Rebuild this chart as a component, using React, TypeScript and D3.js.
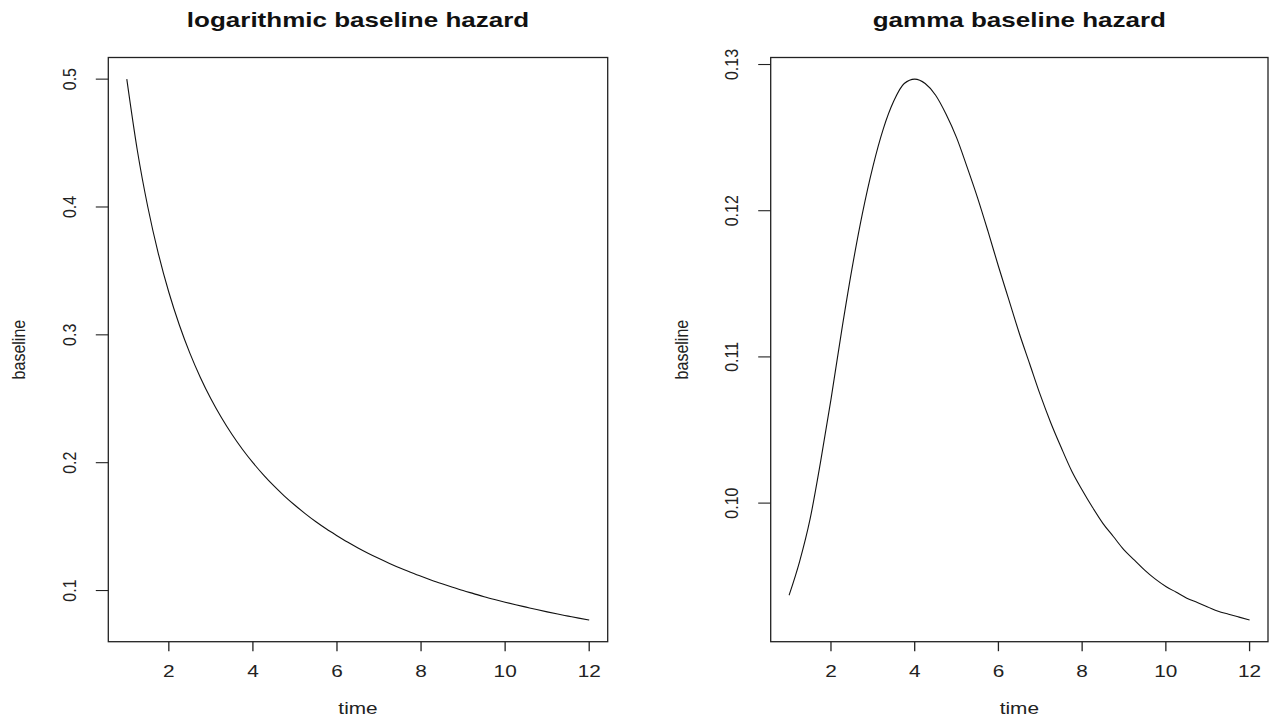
import React from "react";
import * as d3 from "d3";

// Evaluation grid (time) shared by both hazard curves
const time = [
  1, 1.25, 1.5, 1.75, 2, 2.25, 2.5, 2.75, 3, 3.25, 3.5, 3.75, 4, 4.25, 4.5, 4.75,
  5, 5.25, 5.5, 5.75, 6, 6.25, 6.5, 6.75, 7, 7.25, 7.5, 7.75, 8, 8.25, 8.5, 8.75,
  9, 9.25, 9.5, 9.75, 10, 10.25, 10.5, 10.75, 11, 11.25, 11.5, 11.75, 12,
];

// Logarithmic baseline hazard values
const logBaseline = [
  0.5, 0.4444, 0.4, 0.3636, 0.3333, 0.3077, 0.2857, 0.2667, 0.25, 0.2353, 0.2222,
  0.2105, 0.2, 0.1905, 0.1818, 0.1739, 0.1667, 0.16, 0.1538, 0.1481, 0.1429, 0.1379,
  0.1333, 0.129, 0.125, 0.1212, 0.1176, 0.1143, 0.1111, 0.1081, 0.1053, 0.1026, 0.1,
  0.0976, 0.0952, 0.093, 0.0909, 0.0889, 0.087, 0.0851, 0.0833, 0.0816, 0.08, 0.0784,
  0.0769,
];

// Gamma baseline hazard values
const gammaBaseline = [
  0.0937, 0.096, 0.0989, 0.1028, 0.1071, 0.1117, 0.116, 0.1198, 0.123, 0.1256, 0.1275,
  0.1287, 0.129, 0.1287, 0.1279, 0.1266, 0.125, 0.123, 0.1209, 0.1186, 0.1162, 0.1139,
  0.1116, 0.1095, 0.1074, 0.1055, 0.1038, 0.1022, 0.1009, 0.0997, 0.0986, 0.0977,
  0.0968, 0.0961, 0.0954, 0.0948, 0.0943, 0.0939, 0.0935, 0.0932, 0.0929, 0.0926,
  0.0924, 0.0922, 0.092,
];

const xTicks = [2, 4, 6, 8, 10, 12];
const logYTicks = [0.1, 0.2, 0.3, 0.4, 0.5];
const logYTickLabels = ["0.1", "0.2", "0.3", "0.4", "0.5"];
const gammaYTicks = [0.1, 0.11, 0.12, 0.13];
const gammaYTickLabels = ["0.10", "0.11", "0.12", "0.13"];

const W = 1269;
const H = 716;
const SX = 1.3; // horizontal text stretch
const SXR = 1.15; // stretch for rotated text
const FONT = "'Liberation Sans', Arial, Helvetica, sans-serif";

type PanelProps = {
  left: number;
  right: number;
  title: string;
  ys: number[];
  yTicks: number[];
  yTickLabels: string[];
};

// R-style range padding of 4% on each side
function padded(vals: number[]): [number, number] {
  const [lo, hi] = d3.extent(vals) as [number, number];
  const p = (hi - lo) * 0.04;
  return [lo - p, hi + p];
}

function Panel({ left, right, title, ys, yTicks, yTickLabels }: PanelProps) {
  const top = 57.5;
  const bottom = 641.7;
  const x = d3.scaleLinear().domain(padded(time)).range([left, right]);
  const y = d3.scaleLinear().domain(padded(ys)).range([bottom, top]);
  const line = d3
    .line<number>()
    .x((_, i) => x(time[i]))
    .y((d) => y(d))
    .curve(d3.curveMonotoneX);
  const cx = (left + right) / 2;

  return (
    <g>
      <text
        transform={`translate(${cx},27) scale(${SX},1)`}
        textAnchor="middle"
        fontFamily={FONT}
        fontWeight="bold"
        fontSize={20}
        fill="#111"
      >
        {title}
      </text>
      <rect
        x={left}
        y={top}
        width={right - left}
        height={bottom - top}
        fill="none"
        stroke="#222"
        strokeWidth={1.3}
      />
      <path d={line(ys) || ""} fill="none" stroke="#111" strokeWidth={1.1} />
      {xTicks.map((t) => (
        <g key={"x" + t}>
          <line x1={x(t)} x2={x(t)} y1={bottom} y2={bottom + 9.5} stroke="#222" strokeWidth={1.3} />
          <text
            transform={`translate(${x(t)},677) scale(${SX},1)`}
            textAnchor="middle"
            fontFamily={FONT}
            fontSize={16}
            fill="#222"
          >
            {t}
          </text>
        </g>
      ))}
      {yTicks.map((v, i) => (
        <g key={"y" + v}>
          <line x1={left - 12.5} x2={left} y1={y(v)} y2={y(v)} stroke="#222" strokeWidth={1.1} />
          <text
            transform={`translate(${left - 32.5},${y(v)}) scale(${SXR},1) rotate(-90)`}
            textAnchor="middle"
            fontFamily={FONT}
            fontSize={16}
            fill="#222"
          >
            {yTickLabels[i]}
          </text>
        </g>
      ))}
      <text
        transform={`translate(${cx},714) scale(${SX},1)`}
        textAnchor="middle"
        fontFamily={FONT}
        fontSize={16}
        fill="#222"
      >
        time
      </text>
      <text
        transform={`translate(${left - 83},${(top + bottom) / 2}) scale(${SXR},1) rotate(-90)`}
        textAnchor="middle"
        fontFamily={FONT}
        fontSize={16}
        fill="#222"
      >
        baseline
      </text>
    </g>
  );
}

export default function App() {
  return (
    <svg
      width={W}
      height={H}
      style={{ position: "absolute", left: 0, top: 0, background: "#fff" }}
    >
      <rect width={W} height={H} fill="#fff" />
      <Panel
        left={108.3}
        right={607.7}
        title="logarithmic baseline hazard"
        ys={logBaseline}
        yTicks={logYTicks}
        yTickLabels={logYTickLabels}
      />
      <Panel
        left={770.7}
        right={1268}
        title="gamma baseline hazard"
        ys={gammaBaseline}
        yTicks={gammaYTicks}
        yTickLabels={gammaYTickLabels}
      />
    </svg>
  );
}
